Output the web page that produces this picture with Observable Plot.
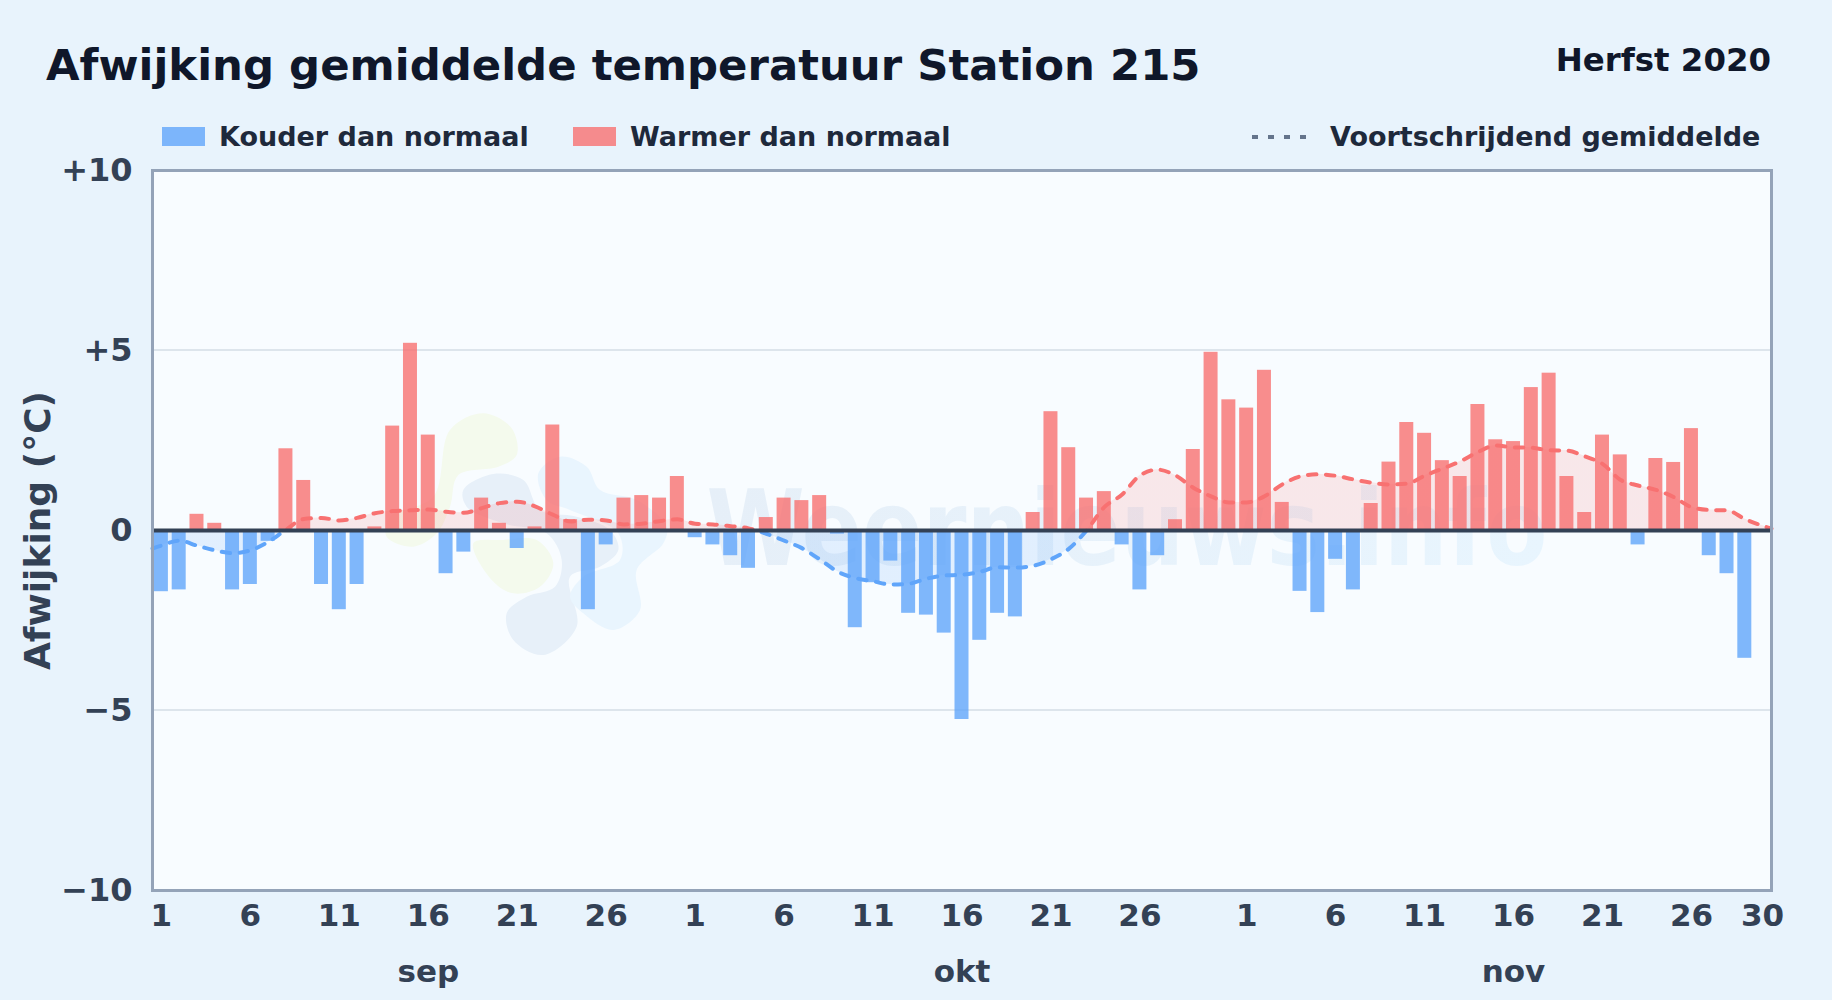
<!DOCTYPE html>
<html lang="nl">
<head>
<meta charset="utf-8">
<title>Afwijking gemiddelde temperatuur Station 215</title>
<script src="https://cdn.jsdelivr.net/npm/d3@7"></script>
<script src="https://cdn.jsdelivr.net/npm/@observablehq/plot@0.6"></script>
<style>
  html, body { margin: 0; padding: 0; width: 1832px; height: 1000px; overflow: hidden; background: #e8f3fc; }
  #page { position: relative; width: 1832px; height: 1000px; font-family: "DejaVu Sans", sans-serif; font-weight: 700; }
  #page > * { position: absolute; white-space: nowrap; }
  #title { left: 46px; top: 38px; font-size: 43.4px; line-height: 54px; color: #0f172a; }
  #season { right: 61px; top: 38px; font-size: 32.4px; line-height: 44px; color: #0f172a; }
  .legend { top: 120px; font-size: 27px; line-height: 34px; color: #1e293b; }
  .swatch { top: 127px; width: 43px; height: 19px; }
  #dots { left: 1252px; top: 131px; width: 56px; height: 12px; }
  svg.chart { position: absolute; left: 0; top: 150px; }
</style>
</head>
<body>
<div id="page">
  <div id="title">Afwijking gemiddelde temperatuur Station 215</div>
  <div id="season">Herfst 2020</div>
  <div class="swatch" style="left:162px;background:#60a5fa;opacity:.8"></div>
  <div class="legend" style="left:219px">Kouder dan normaal</div>
  <div class="swatch" style="left:573px;background:#f87171;opacity:.8"></div>
  <div class="legend" style="left:630px">Warmer dan normaal</div>
  <svg id="dots" viewBox="0 0 56 12"><line x1="0" x2="56" y1="6" y2="6" stroke="#64748b" stroke-width="4" stroke-dasharray="6 10"/></svg>
  <div class="legend" style="left:1330px">Voortschrijdend gemiddelde</div>
</div>
<script>
// Daily deviation from normal (°C), one value per day
const sepDeviation = [-1.7,-1.65,0.45,0.2,-1.65,-1.5,-0.3,2.27,1.39,-1.5,-2.2,-1.5,0.1,2.9,5.2,2.65,-1.2,-0.6,0.9,0.2,-0.5,0.1,2.93,0.3,-2.2,-0.4,0.9,0.97,0.9,1.5];
const oktDeviation = [-0.2,-0.4,-0.7,-1.05,0.36,0.9,0.83,0.97,-0.1,-2.7,-1.45,-0.85,-2.3,-2.35,-2.85,-5.25,-3.05,-2.3,-2.4,0.5,3.3,2.3,0.9,1.08,-0.4,-1.65,-0.7,0.3,2.25,4.95,3.63];
const novDeviation = [3.4,4.45,0.78,-1.69,-2.28,-0.8,-1.65,0.75,1.9,3.0,2.7,1.94,1.5,3.5,2.52,2.47,3.97,4.37,1.5,0.5,2.65,2.1,-0.4,2.0,1.89,2.83,-0.7,-1.2,-3.55,0];
// Moving average per day
const sepAverage = [-0.42,-0.28,-0.42,-0.55,-0.63,-0.55,-0.32,0.02,0.32,0.35,0.28,0.35,0.48,0.54,0.56,0.58,0.52,0.49,0.62,0.76,0.8,0.67,0.44,0.25,0.3,0.28,0.17,0.19,0.26,0.31];
const oktAverage = [0.19,0.17,0.12,0.06,-0.09,-0.28,-0.49,-0.8,-1.14,-1.32,-1.41,-1.5,-1.48,-1.34,-1.25,-1.23,-1.15,-1.02,-1.03,-0.98,-0.8,-0.51,0,0.65,1.0,1.53,1.69,1.53,1.19,0.95,0.78];
const novAverage = [0.78,0.95,1.28,1.5,1.56,1.52,1.42,1.33,1.28,1.3,1.52,1.72,1.92,2.18,2.36,2.31,2.3,2.23,2.22,2.06,1.85,1.41,1.25,1.13,0.93,0.65,0.57,0.56,0.32,0.13];
const averageAtStart = -0.5;
const averageAtEnd = 0.05;
const dayTicks = [[8,1],[8,6],[8,11],[8,16],[8,21],[8,26],[9,1],[9,6],[9,11],[9,16],[9,21],[9,26],[10,1],[10,6],[10,11],[10,16],[10,21],[10,26],[10,30]];
const monthLabels = [[8,16,"sep"],[9,16,"okt"],[10,16,"nov"]];
const yTicks = [-10,-5,0,5,10];
const yGrid = [-5,5];
const chartTitleY = "Afwijking (°C)";

const noon = (m, d) => new Date(Date.UTC(2020, m, d, 12));
const deviation = [...sepDeviation, ...oktDeviation, ...novDeviation];
const average = [...sepAverage, ...oktAverage, ...novAverage];
const days = deviation.map((v, i) => ({date: new Date(Date.UTC(2020, 8, 1 + i)), v}));
const avgRows = [
  {t: new Date(Date.UTC(2020, 8, 1)), a: averageAtStart},
  ...average.map((a, i) => ({t: new Date(Date.UTC(2020, 8, 1 + i, 12)), a})),
  {t: new Date(Date.UTC(2020, 11, 1)), a: averageAtEnd}
];

const marginTop = 20, plotH = 720, marginBottom = 110;
const RED = "#f87171", BLUE = "#60a5fa";

// Background decoration: pale logo blobs, wordmark and sign-split gradients
function decoration() {
  const g = d3.create("svg:g");
  const defs = g.append("defs");
  const grad = (id, top, bot, op) => {
    const lg = defs.append("linearGradient").attr("id", id).attr("gradientUnits", "userSpaceOnUse")
      .attr("x1", 0).attr("x2", 0).attr("y1", marginTop).attr("y2", marginTop + plotH);
    lg.append("stop").attr("offset", "50%").attr("stop-color", top).attr("stop-opacity", op);
    lg.append("stop").attr("offset", "50%").attr("stop-color", bot).attr("stop-opacity", op);
  };
  grad("lineSign", RED, BLUE, 1);
  grad("areaSign", RED, BLUE, 0.15);
  const word = defs.append("linearGradient").attr("id", "wordFill");
  word.append("stop").attr("offset", "0%").attr("stop-color", "#e6eff8");
  word.append("stop").attr("offset", "100%").attr("stop-color", "#e8f5fe");
  const blob = d3.line().curve(d3.curveCatmullRomClosed.alpha(0.5));
  const place = pts => blob(pts.map(([x, y]) => [370 + x / 3, 250 + y / 3]));
  const shapes = [
    ["#f4faed", [[240,90],[340,40],[425,85],[440,165],[385,200],[265,225],[240,320],[200,400],[130,440],[50,410],[60,350],[190,290]]],
    ["#f4faed", [[310,430],[400,420],[500,420],[550,490],[510,560],[430,580],[365,540]]],
    ["#e7f0f9", [[280,270],[370,222],[460,240],[510,330],[620,350],[720,390],[745,450],[690,500],[600,530],[620,680],[520,765],[430,720],[410,640],[470,590],[555,560],[575,480],[530,400],[400,370],[290,320]]],
    ["#e9f5fe", [[505,220],[570,170],[650,200],[690,270],[800,300],[890,380],[880,430],[800,510],[810,630],[730,690],[640,640],[600,590],[640,530],[750,480],[745,400],[600,330],[530,300]]]
  ];
  for (const [c, pts] of shapes) g.append("path").attr("d", place(pts)).attr("fill", c);
  g.append("text").text("Weernieuws.info").attr("x", 1127).attr("y", 415).attr("text-anchor", "middle")
    .attr("textLength", 841).attr("lengthAdjust", "spacingAndGlyphs")
    .attr("font-size", 106).attr("font-weight", 700).attr("fill", "url(#wordFill)");
  return g.node();
}

const chart = Plot.plot({
  width: 1832,
  height: 850,
  marginLeft: 152,
  marginRight: 61,
  marginTop,
  marginBottom,
  style: {background: "transparent", fontFamily: '"DejaVu Sans", sans-serif', fontWeight: 700, overflow: "visible"},
  x: {type: "utc", domain: [new Date(Date.UTC(2020, 8, 1)), new Date(Date.UTC(2020, 11, 1))]},
  y: {domain: [-10, 10]},
  marks: [
    Plot.frame({fill: "#f8fcff", stroke: "none"}),
    decoration,
    Plot.ruleY(yGrid, {stroke: "#dde5ec", strokeWidth: 2, dy: -0.5}),
    Plot.areaY(avgRows, {x: "t", y1: 0, y2: "a", curve: "monotone-x", fill: "url(#areaSign)"}),
    Plot.rectY(days.filter(d => d.v < 0), {x1: "date", x2: d => d3.utcDay.offset(d.date, 1), y1: 0, y2: "v", fill: BLUE, fillOpacity: 0.8, insetLeft: 1.9, insetRight: 1.9}),
    Plot.rectY(days.filter(d => d.v > 0), {x1: "date", x2: d => d3.utcDay.offset(d.date, 1), y1: 0, y2: "v", fill: RED, fillOpacity: 0.8, insetLeft: 1.9, insetRight: 1.9}),
    Plot.line(avgRows, {x: "t", y: "a", curve: "monotone-x", stroke: "url(#lineSign)", strokeWidth: 4, strokeDasharray: "8.5 9.5", strokeLinecap: "round"}),
    Plot.ruleY([0], {stroke: "#334155", strokeWidth: 4}),
    Plot.frame({stroke: "#94a3b8", strokeWidth: 3}),
    Plot.axisY({ticks: yTicks, tickSize: 0, tickPadding: 20, fontSize: 32, fill: "#334155", label: null,
      tickFormat: v => v > 0 ? `+${v}` : v < 0 ? `\u2212${-v}` : "0"}),
    Plot.axisX({ticks: dayTicks.map(([m, d]) => noon(m, d)), tickSize: 0, tickPadding: 13, fontSize: 31, fill: "#334155", label: null,
      tickFormat: d => String(d.getUTCDate())}),
    Plot.axisX({ticks: monthLabels.map(([m, d]) => noon(m, d)), tickSize: 0, tickPadding: 69, fontSize: 31, fill: "#334155", label: null,
      tickFormat: d => monthLabels.find(([m]) => m === d.getUTCMonth())[2]}),
    Plot.text([chartTitleY], {frameAnchor: "left", rotate: -90, dx: -114, fontSize: 36, fill: "#334155", fontWeight: 700, textAnchor: "middle"})
  ]
});
chart.classList.add("chart");
document.getElementById("page").appendChild(chart);
</script>
</body>
</html>
